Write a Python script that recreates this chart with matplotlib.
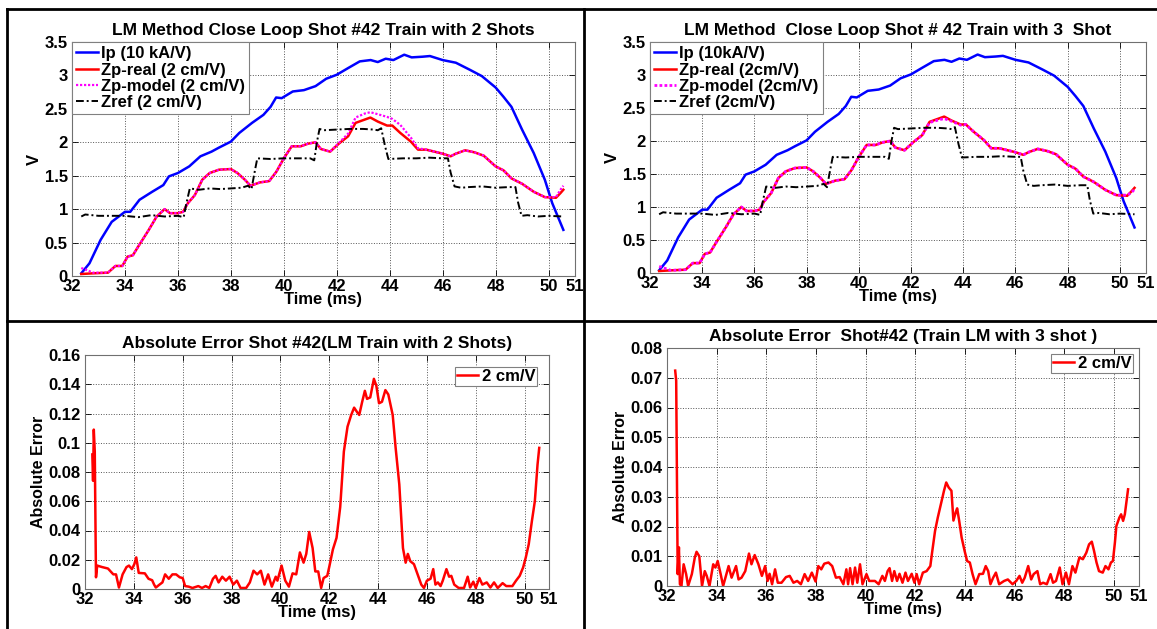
import numpy as np
import matplotlib
matplotlib.use('Agg')
import matplotlib.pyplot as plt
from matplotlib.lines import Line2D
from matplotlib.ticker import FormatStrFormatter

plt.rcParams['font.family'] = ['Liberation Sans', 'DejaVu Sans']
plt.rcParams['font.weight'] = 'bold'
plt.rcParams['axes.titleweight'] = 'bold'
plt.rcParams['axes.labelweight'] = 'bold'

# ---- top panels: plasma current, real / model position, reference ----
ip_t = [32.35, 32.66, 33.08, 33.5, 34.0, 34.2, 34.55, 35.03, 35.45, 35.66, 36.0, 36.43,
        36.85, 37.27, 37.55, 38.0, 38.32, 38.8, 39.23, 39.5, 39.71, 39.92, 40.34, 40.76,
        41.2, 41.6, 42.0, 42.43, 42.87, 43.28, 43.55, 43.85, 44.14, 44.55, 44.83, 45.24,
        45.52, 46.0, 46.5, 47.05, 47.48, 48.0, 48.3, 48.6, 49.0, 49.44, 49.86, 50.14, 50.56]
ip_v = [0.04, 0.19, 0.54, 0.81, 0.96, 0.96, 1.14, 1.26, 1.36, 1.49, 1.54, 1.64,
        1.79, 1.86, 1.92, 2.01, 2.14, 2.29, 2.41, 2.53, 2.67, 2.66, 2.76, 2.78,
        2.84, 2.95, 3.01, 3.11, 3.21, 3.23, 3.20, 3.25, 3.23, 3.31, 3.27, 3.28,
        3.29, 3.23, 3.19, 3.08, 2.99, 2.82, 2.68, 2.53, 2.19, 1.84, 1.44, 1.09, 0.69]

zp_t = [32.35, 32.8, 33.36, 33.64, 33.9, 34.1, 34.3, 34.5, 34.9, 35.2, 35.5, 35.7,
        36.0, 36.2, 36.36, 36.64, 36.92, 37.2, 37.55, 38.0, 38.25, 38.53, 38.74, 39.1,
        39.45, 39.72, 40.0, 40.3, 40.64, 40.92, 41.2, 41.4, 41.75, 42.08, 42.43, 42.71,
        43.06, 43.27, 43.55, 43.9, 44.1, 44.4, 44.8, 45.07, 45.38, 46.0, 46.3, 46.5,
        46.85, 47.2, 47.55, 48.0, 48.3, 48.6, 49.0, 49.44, 49.86, 50.28, 50.45, 50.56]
zp_real = [0.03, 0.04, 0.05, 0.15, 0.15, 0.29, 0.31, 0.44, 0.69, 0.89, 1.0, 0.94,
           0.94, 0.96, 1.08, 1.21, 1.44, 1.54, 1.59, 1.60, 1.54, 1.44, 1.35, 1.40,
           1.42, 1.56, 1.76, 1.94, 1.94, 1.98, 2.0, 1.90, 1.86, 1.98, 2.09, 2.29,
           2.34, 2.37, 2.31, 2.25, 2.25, 2.14, 2.01, 1.89, 1.89, 1.83, 1.79, 1.83,
           1.88, 1.85, 1.80, 1.64, 1.58, 1.46, 1.38, 1.26, 1.18, 1.17, 1.24, 1.29]
zp_model_2 = [0.12, 0.05, 0.05, 0.15, 0.15, 0.29, 0.31, 0.44, 0.69, 0.89, 1.0, 0.94,
              0.94, 0.96, 1.08, 1.21, 1.44, 1.54, 1.59, 1.60, 1.54, 1.44, 1.35, 1.40,
              1.42, 1.56, 1.76, 1.94, 1.94, 1.98, 2.0, 1.90, 1.86, 1.99, 2.13, 2.37,
              2.43, 2.45, 2.42, 2.38, 2.35, 2.26, 2.07, 1.91, 1.89, 1.83, 1.79, 1.83,
              1.88, 1.85, 1.80, 1.64, 1.58, 1.46, 1.38, 1.26, 1.18, 1.18, 1.29, 1.35]
zp_model_3 = [0.10, 0.04, 0.05, 0.15, 0.15, 0.29, 0.31, 0.44, 0.69, 0.89, 1.0, 0.94,
              0.94, 0.96, 1.08, 1.21, 1.44, 1.54, 1.59, 1.60, 1.54, 1.44, 1.35, 1.40,
              1.42, 1.56, 1.76, 1.94, 1.94, 1.98, 2.0, 1.90, 1.86, 1.98, 2.09, 2.28,
              2.32, 2.34, 2.30, 2.24, 2.25, 2.14, 2.01, 1.89, 1.89, 1.83, 1.79, 1.83,
              1.88, 1.85, 1.80, 1.64, 1.58, 1.46, 1.38, 1.26, 1.18, 1.18, 1.22, 1.27]

zref_t = [32.35, 32.5, 33.0, 33.5, 34.0, 34.5, 35.0, 35.5, 36.0, 36.22, 36.3, 36.45,
          36.8, 37.2, 37.6, 38.0, 38.4, 38.65, 38.78, 38.92, 39.0, 39.5, 40.0, 40.5,
          41.0, 41.15, 41.25, 41.35, 41.5, 42.0, 42.5, 43.0, 43.4, 43.55, 43.68, 43.82,
          43.95, 44.5, 45.0, 45.5, 46.0, 46.2, 46.3, 46.45, 46.7, 47.0, 47.5, 48.0,
          48.5, 48.75, 48.85, 48.98, 49.2, 49.6, 50.0, 50.56]
zref_v = [0.89, 0.92, 0.90, 0.90, 0.90, 0.88, 0.91, 0.89, 0.90, 0.88, 1.05, 1.31,
          1.29, 1.31, 1.30, 1.31, 1.32, 1.35, 1.30, 1.60, 1.76, 1.75, 1.76, 1.76,
          1.76, 1.73, 2.0, 2.20, 2.18, 2.19, 2.20, 2.20, 2.19, 2.18, 2.21, 1.95,
          1.75, 1.76, 1.76, 1.77, 1.76, 1.76, 1.55, 1.34, 1.32, 1.33, 1.34, 1.32,
          1.33, 1.33, 1.10, 0.90, 0.91, 0.89, 0.90, 0.89]

# ---- bottom panels: absolute error ----
err2_t = [32.30, 32.33, 32.36, 32.40, 32.45, 32.50, 32.70, 32.94, 33.16, 33.27, 33.39, 33.54,
          33.70, 33.80, 33.92, 34.02, 34.10, 34.20, 34.45, 34.60, 34.75, 34.83, 34.90, 35.05,
          35.17, 35.28, 35.43, 35.58, 35.73, 35.88, 36.00, 36.10, 36.25, 36.40, 36.64, 36.79,
          36.94, 37.09, 37.24, 37.35, 37.47, 37.62, 37.77, 37.92, 38.07, 38.22, 38.37, 38.60,
          38.75, 38.90, 39.05, 39.20, 39.35, 39.50, 39.65, 39.81, 39.88, 40.05, 40.20, 40.35,
          40.50, 40.65, 40.80, 40.95, 41.06, 41.18, 41.32, 41.43, 41.55, 41.67, 41.77, 41.92,
          42.00, 42.15, 42.30, 42.45, 42.60, 42.75, 42.90, 43.02, 43.14, 43.23, 43.35, 43.46,
          43.55, 43.68, 43.83, 43.93, 44.04, 44.16, 44.30, 44.42, 44.60, 44.72, 44.87, 45.02,
          45.13, 45.22, 45.32, 45.47, 45.62, 45.77, 45.88, 46.00, 46.15, 46.26, 46.35, 46.45,
          46.56, 46.65, 46.80, 46.91, 47.00, 47.12, 47.30, 47.52, 47.67, 47.77, 47.90, 48.00,
          48.15, 48.27, 48.45, 48.60, 48.75, 48.90, 49.10, 49.25, 49.50, 49.65, 49.80, 49.94,
          50.05, 50.17, 50.30, 50.42, 50.53, 50.60]
err2_v = [0.092, 0.074, 0.109, 0.094, 0.008, 0.016, 0.015, 0.014, 0.010, 0.010, 0.001, 0.010,
          0.015, 0.016, 0.0136, 0.017, 0.0216, 0.011, 0.0107, 0.007, 0.006, 0.003, 0.001, 0.003,
          0.0045, 0.010, 0.007, 0.010, 0.010, 0.008, 0.0075, 0.002, 0.0016, 0.0007, 0.002, 0.0007,
          0.002, 0.0007, 0.007, 0.009, 0.0045, 0.0084, 0.0057, 0.0084, 0.003, 0.0057, 0.0007, 0.0007,
          0.0045, 0.0125, 0.010, 0.0125, 0.003, 0.010, 0.0016, 0.0084, 0.0057, 0.016, 0.0057, 0.0016,
          0.0107, 0.010, 0.025, 0.018, 0.024, 0.039, 0.028, 0.012, 0.012, 0.0007, 0.0075, 0.009,
          0.015, 0.027, 0.035, 0.056, 0.094, 0.111, 0.119, 0.124, 0.121, 0.119, 0.128, 0.1355,
          0.130, 0.131, 0.1437, 0.139, 0.127, 0.128, 0.136, 0.133, 0.119, 0.0965, 0.0715, 0.028,
          0.018, 0.024, 0.019, 0.017, 0.010, 0.003, 0.0007, 0.0057, 0.007, 0.0136, 0.003, 0.0045,
          0.002, 0.0057, 0.0136, 0.0084, 0.009, 0.003, 0.0007, 0.0007, 0.0084, 0.001, 0.005, 0.0007,
          0.0075, 0.003, 0.0045, 0.001, 0.0045, 0.0007, 0.004, 0.002, 0.002, 0.0057, 0.009, 0.0147,
          0.0216, 0.0306, 0.0465, 0.060, 0.085, 0.0965]

err3_t = [32.33, 32.37, 32.40, 32.43, 32.48, 32.52, 32.58, 32.67, 32.77, 32.85, 33.00, 33.12,
          33.19, 33.30, 33.41, 33.52, 33.60, 33.71, 33.86, 33.95, 34.04, 34.16, 34.26, 34.41,
          34.48, 34.60, 34.70, 34.78, 34.88, 35.00, 35.15, 35.30, 35.40, 35.53, 35.68, 35.82,
          35.95, 36.05, 36.13, 36.23, 36.35, 36.46, 36.61, 36.79, 36.94, 37.09, 37.24, 37.39,
          37.54, 37.68, 37.83, 37.98, 38.09, 38.21, 38.33, 38.50, 38.65, 38.80, 38.95, 39.10,
          39.22, 39.29, 39.37, 39.47, 39.57, 39.66, 39.77, 39.87, 40.03, 40.14, 40.37, 40.52,
          40.67, 40.77, 40.88, 40.96, 41.06, 41.15, 41.26, 41.36, 41.48, 41.60, 41.70, 41.85,
          41.96, 42.05, 42.15, 42.30, 42.45, 42.60, 42.67, 42.79, 42.90, 43.04, 43.15, 43.24,
          43.34, 43.45, 43.53, 43.63, 43.68, 43.76, 43.86, 43.98, 44.08, 44.19, 44.30, 44.42,
          44.57, 44.72, 44.83, 44.93, 45.02, 45.13, 45.24, 45.37, 45.57, 45.72, 45.91, 46.06,
          46.19, 46.30, 46.40, 46.54, 46.66, 46.76, 46.91, 47.02, 47.14, 47.29, 47.44, 47.54,
          47.66, 47.81, 47.92, 48.06, 48.18, 48.32, 48.44, 48.60, 48.74, 48.88, 48.99, 49.10,
          49.19, 49.29, 49.39, 49.54, 49.65, 49.77, 49.87, 49.95, 50.03, 50.09, 50.21, 50.28,
          50.36, 50.43, 50.56]
err3_v = [0.0724, 0.069, 0.0365, 0.004, 0.013, 0.0006, 0.0, 0.0073, 0.004, 0.0, 0.004, 0.0096,
          0.0115, 0.010, 0.0, 0.005, 0.0034, 0.0, 0.0073, 0.0062, 0.0084, 0.004, 0.0, 0.0045,
          0.0067, 0.0028, 0.005, 0.0067, 0.0022, 0.0028, 0.005, 0.0109, 0.0073, 0.0104, 0.0073, 0.0034,
          0.0067, 0.0017, 0.0041, 0.0006, 0.0056, 0.0011, 0.0011, 0.003, 0.0034, 0.0011, 0.0017, 0.0006,
          0.004, 0.0017, 0.0045, 0.0015, 0.0067, 0.0056, 0.0075, 0.0079, 0.0067, 0.0028, 0.003, 0.0006,
          0.0056, 0.0006, 0.006, 0.0006, 0.0062, 0.0011, 0.0073, 0.0006, 0.004, 0.0017, 0.0017, 0.0006,
          0.0034, 0.0017, 0.005, 0.006, 0.0017, 0.005, 0.0017, 0.0041, 0.0011, 0.0045, 0.0017, 0.0041,
          0.0011, 0.004, 0.0006, 0.0045, 0.005, 0.0067, 0.0112, 0.0185, 0.023, 0.028, 0.032, 0.0348,
          0.0331, 0.032, 0.022, 0.025, 0.0261, 0.022, 0.0163, 0.0118, 0.0084, 0.0079, 0.004, 0.0006,
          0.004, 0.0041, 0.0067, 0.005, 0.0006, 0.0028, 0.0045, 0.0006, 0.0017, 0.0022, 0.0006, 0.0017,
          0.0034, 0.0011, 0.0028, 0.0067, 0.0022, 0.004, 0.005, 0.0006, 0.0011, 0.0006, 0.004, 0.0011,
          0.0017, 0.0062, 0.0006, 0.0045, 0.0006, 0.0067, 0.0045, 0.0096, 0.009, 0.0112, 0.014, 0.0149,
          0.0118, 0.0079, 0.005, 0.0045, 0.0067, 0.0056, 0.0079, 0.0084, 0.0146, 0.0202, 0.023, 0.0241,
          0.0219, 0.0241, 0.0325]

W, H = 1157, 629
fig = plt.figure(figsize=(W / 100, H / 100), dpi=100)
fig.patch.set_facecolor('white')

TITLE_FS = 12.5
TICK_FS = 12
LABEL_FS = 12
LEG_FS = 12


def px_box(left, top, right, bottom):
    return [left / W, 1 - bottom / H, (right - left) / W, (bottom - top) / H]


def style_axes(ax, ylim, yticks):
    ax.set_xlim(32, 51)
    ax.set_xticks([32, 34, 36, 38, 40, 42, 44, 46, 48, 50, 51])
    ax.set_ylim(*ylim)
    ax.set_yticks(yticks)
    ax.yaxis.set_major_formatter(FormatStrFormatter('%g'))
    ax.grid(True, ls=':', color='#555555', lw=0.7)
    ax.tick_params(direction='in', length=4, width=0.6, labelsize=TICK_FS, pad=2,
                   top=True, right=True)
    ax.tick_params(axis='y', pad=3)
    for sp in ax.spines.values():
        sp.set_color('#707070')
        sp.set_linewidth(0.8)
    ax.set_xlabel('Time (ms)', fontsize=LABEL_FS, labelpad=-1)


def top_panel(box, title, model, labels, model_lw):
    ax = fig.add_axes(px_box(*box))
    ax.plot(ip_t, ip_v, color='#0000ff', lw=1.8, label=labels[0])
    ax.plot(zp_t, zp_real, color='#ff0000', lw=1.8, label=labels[1])
    ax.plot(zp_t, model, color='#ff00ff', lw=model_lw, ls=(0, (1, 0.8)), label=labels[2])
    ax.plot(zref_t, zref_v, color='black', lw=1.4, ls=(0, (4, 1.5, 1, 1.5)), label=labels[3])
    style_axes(ax, (0, 3.5), np.arange(0, 3.51, 0.5))
    ax.set_ylabel('V', fontsize=LABEL_FS, labelpad=2)
    ax.set_title(title, fontsize=TITLE_FS, pad=5)
    leg = ax.legend(loc='upper left', borderaxespad=0, fancybox=False, framealpha=1,
                    edgecolor='#808080', fontsize=LEG_FS, handlelength=1.3,
                    handletextpad=0.2, labelspacing=0.08, borderpad=0.25)
    leg.get_frame().set_linewidth(0.8)
    return ax


def err_panel(box, title, t, v, ylim, yticks, pad):
    ax = fig.add_axes(px_box(*box))
    ax.plot(t, v, color='#ff0000', lw=1.8, label='2 cm/V')
    style_axes(ax, ylim, yticks)
    ax.set_ylabel('Absolute Error', fontsize=11.5, labelpad=2)
    ax.set_title(title, fontsize=TITLE_FS, pad=5)
    leg = ax.legend(loc='upper right', borderaxespad=pad, fancybox=False, framealpha=1,
                    edgecolor='#808080', fontsize=LEG_FS, handlelength=1.3,
                    handletextpad=0.2, borderpad=0.12)
    leg.get_frame().set_linewidth(0.8)
    return ax


top_panel((72, 42, 575, 276), 'LM Method Close Loop Shot #42 Train with 2 Shots', zp_model_2,
          ['Ip (10 kA/V)', 'Zp-real (2 cm/V)', 'Zp-model (2 cm/V)', 'Zref (2 cm/V)'], 1.6)
top_panel((650, 42, 1146, 273), 'LM Method  Close Loop Shot # 42 Train with 3  Shot', zp_model_3,
          ['Ip (10kA/V)', 'Zp-real (2cm/V)', 'Zp-model (2cm/V)', 'Zref (2cm/V)'], 2.0)
err_panel((85, 355, 549, 589), 'Absolute Error Shot #42(LM Train with 2 Shots)',
          err2_t, err2_v, (0, 0.16), np.arange(0, 0.161, 0.02), 0.7)
err_panel((667, 348, 1139, 586), 'Absolute Error  Shot#42 (Train LM with 3 shot )',
          err3_t, err3_v, (0, 0.08), np.arange(0, 0.081, 0.01), 0.35)

# panel frame lines
for (x0, y0, x1, y1) in [(7, 9, W, 9), (7, 9, 7, H), (584, 9, 584, H), (7, 321, W, 321)]:
    fig.add_artist(Line2D([x0 / W, x1 / W], [1 - y0 / H, 1 - y1 / H],
                          transform=fig.transFigure, color='black', lw=2))

fig.savefig('out.png', dpi=100)
